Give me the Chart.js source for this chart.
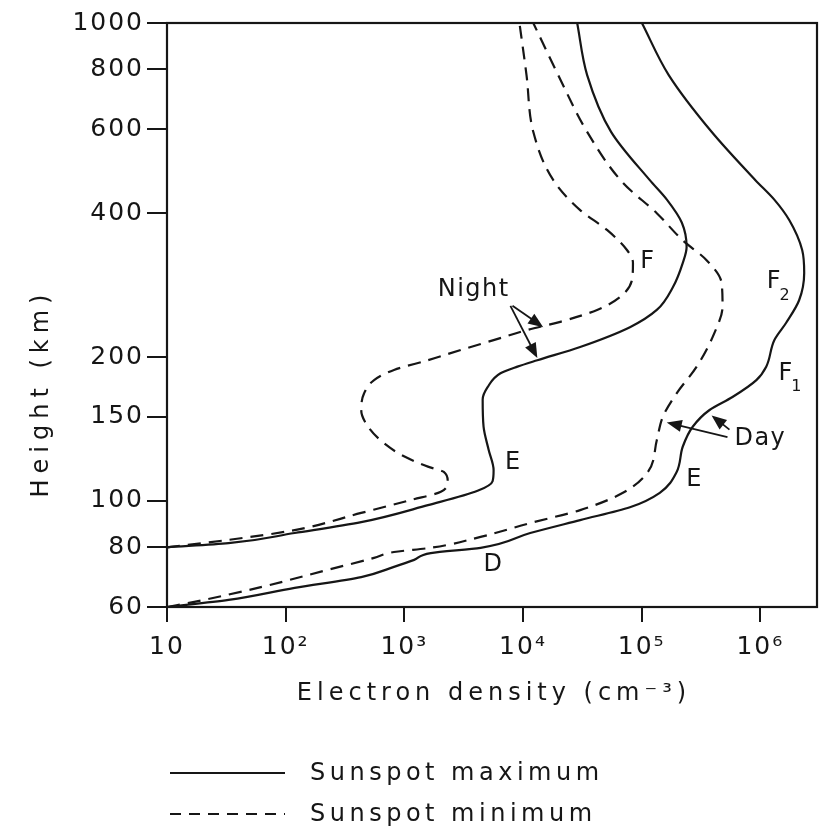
<!DOCTYPE html>
<html>
<head>
<meta charset="utf-8">
<script src="https://cdn.jsdelivr.net/npm/chart.js@4"></script>
<style>
  html, body { margin: 0; padding: 0; background: #fff; }
</style>
</head>
<body>
<canvas id="chartIonosphere" width="826" height="828"></canvas>
<script>
// ticks de los ejes
const xTicks = [10, 1e2, 1e3, 1e4, 1e5, 1e6];
const xTickLabels = ['10', '10²', '10³', '10⁴', '10⁵', '10⁶'];
const yTicks = [60, 80, 100, 150, 200, 400, 600, 800, 1000];

// Noche, máximo de manchas solares (línea continua)
const nightMaxDensity = [10, 33, 119, 433, 1580, 4140, 5540, 5650, 5130, 4650, 4570, 5030, 6460, 8970, 13200, 30300, 79600, 134000, 183000, 222000, 239000, 218000, 163000, 117000, 55200, 34700, 28600];
const nightMaxHeight = [80, 81.6, 85.7, 90.3, 98, 105, 110, 116, 128, 143, 163, 173, 185, 191, 197, 210, 231, 251, 280, 315, 340, 382, 427, 469, 592, 778, 1000];

// Noche, mínimo (discontinua)
const nightMinDensity = [10, 33, 119, 433, 1140, 2030, 2320, 2150, 1580, 993, 675, 495, 433, 458, 556, 818, 1580, 2990, 5650, 10900, 20600, 42100, 65600, 82800, 84400, 75100, 51000, 30300, 18000, 12200, 10700, 9330];
const nightMinHeight = [80, 82.9, 86.9, 94.4, 100.5, 104.5, 110, 115, 118, 124, 132, 143, 155, 168, 179, 188, 197, 207, 217, 228, 237, 251, 267, 290, 315, 335, 369, 406, 469, 592, 778, 1000];

// Día, máximo (continua)
const dayMaxDensity = [10, 33, 119, 433, 818, 1210, 1670, 4390, 11500, 30300, 79600, 142000, 197000, 222000, 269000, 373000, 582000, 925000, 1120000, 1310000, 1650000, 2120000, 2340000, 2250000, 1750000, 1310000, 908000, 388000, 169000, 100400];
const dayMaxHeight = [60, 62.1, 65.8, 69.3, 72.8, 75.3, 77.8, 79.8, 85.7, 91.2, 97, 104, 115, 130, 143, 155, 165, 179, 191, 217, 236, 263, 300, 335, 387, 427, 469, 592, 778, 1000];

// Día, mínimo (discontinua)
const dayMinDensity = [10, 17, 63, 228, 556, 818, 1670, 4390, 11500, 30300, 69500, 112700, 134000, 150700, 197000, 290600, 411000, 480000, 471000, 352000, 221600, 134000, 69500, 34700, 19800, 12200];
const dayMinHeight = [60, 61.5, 66.1, 71.8, 76, 78.2, 79.8, 84.1, 89.9, 95.7, 104, 115, 134, 150, 168, 191, 225, 255, 286, 319, 351, 400, 463, 592, 778, 1000];

// etiquetas dentro del gráfico
const labelText = ['Night', 'F', 'E', 'F', 'F', 'Day', 'E', 'D'];
const labelSub = ['', '', '', '2', '1', '', '', ''];
const labelDensity = [3840, 112700, 8300, 1310000, 1650000, 1000000, 279000, 5650];
const labelHeight = [276, 317, 120, 287, 185, 135, 111, 73.4];

// flechas (desde -> hasta)
const arrowFromDensity = [8150, 7830, 528000, 549000];
const arrowFromHeight = [256, 256, 136, 141];
const arrowToDensity = [14800, 13200, 162600, 388000];
const arrowToHeight = [231, 199, 146, 151];

const legendLabels = ['Sunspot maximum', 'Sunspot minimum'];

const ink = '#161616';
const fontFamily = '"DejaVu Sans", sans-serif';

function toPoints(xs, ys) {
  return xs.map((x, i) => ({ x: x, y: ys[i] }));
}

// las curvas son función de la altura, por eso el eje índice es "y"
function lineDataset(xs, ys, dashed) {
  return {
    data: toPoints(xs, ys),
    showLine: true,
    indexAxis: 'y',
    borderColor: ink,
    borderWidth: 2.2,
    borderDash: dashed ? [13, 8] : [],
    pointRadius: 0,
    cubicInterpolationMode: 'monotone',
    fill: false
  };
}

// marco, textos, flechas y leyenda
const decorPlugin = {
  id: 'decor',
  beforeDraw(chart) {
    chart.ctx.letterSpacing = '2px';
  },
  afterDatasetsDraw(chart) {
    const ctx = chart.ctx;
    const xs = chart.scales.x;
    const ys = chart.scales.y;
    const area = chart.chartArea;
    ctx.save();
    ctx.strokeStyle = ink;
    ctx.fillStyle = ink;
    ctx.lineWidth = 2.2;
    ctx.setLineDash([]);
    ctx.strokeRect(area.left, area.top, area.right - area.left, area.bottom - area.top);

    ctx.textAlign = 'center';
    ctx.textBaseline = 'middle';
    ctx.letterSpacing = '1.5px';
    labelText.forEach((t, i) => {
      const px = xs.getPixelForValue(labelDensity[i]);
      const py = ys.getPixelForValue(labelHeight[i]);
      ctx.font = '24px ' + fontFamily;
      ctx.fillText(t, px, py);
      if (labelSub[i]) {
        ctx.font = '16px ' + fontFamily;
        ctx.fillText(labelSub[i], px + 11, py + 14);
      }
    });

    ctx.lineWidth = 1.8;
    arrowFromDensity.forEach((d, i) => {
      const x1 = xs.getPixelForValue(d);
      const y1 = ys.getPixelForValue(arrowFromHeight[i]);
      const x2 = xs.getPixelForValue(arrowToDensity[i]);
      const y2 = ys.getPixelForValue(arrowToHeight[i]);
      const ang = Math.atan2(y2 - y1, x2 - x1);
      ctx.beginPath();
      ctx.moveTo(x1, y1);
      ctx.lineTo(x2 - 8 * Math.cos(ang), y2 - 8 * Math.sin(ang));
      ctx.stroke();
      ctx.beginPath();
      ctx.moveTo(x2, y2);
      ctx.lineTo(x2 - 15 * Math.cos(ang) + 6 * Math.sin(ang), y2 - 15 * Math.sin(ang) - 6 * Math.cos(ang));
      ctx.lineTo(x2 - 15 * Math.cos(ang) - 6 * Math.sin(ang), y2 - 15 * Math.sin(ang) + 6 * Math.cos(ang));
      ctx.closePath();
      ctx.fill();
    });

    // títulos de los ejes
    ctx.font = '24px ' + fontFamily;
    ctx.letterSpacing = '5px';
    ctx.fillText('Electron density (cm⁻³)', (area.left + area.right) / 2 + 2, 694);
    ctx.save();
    ctx.translate(42, 393);
    ctx.rotate(-Math.PI / 2);
    ctx.letterSpacing = '6px';
    ctx.fillText('Height (km)', 0, 0);
    ctx.restore();

    // leyenda
    ctx.lineWidth = 2.2;
    ctx.textAlign = 'left';
    ctx.letterSpacing = '4.5px';
    legendLabels.forEach((t, i) => {
      const ly = i === 0 ? 773 : 814;
      ctx.setLineDash(i === 0 ? [] : [11, 8]);
      ctx.beginPath();
      ctx.moveTo(170, ly);
      ctx.lineTo(285, ly);
      ctx.stroke();
      ctx.setLineDash([]);
      ctx.fillText(t, 310, ly + 1);
    });
    ctx.restore();
  }
};

function drawIonosphereChart() {
  const ctx = document.getElementById('chartIonosphere').getContext('2d');
  new Chart(ctx, {
    type: 'scatter',
    data: {
      datasets: [
        lineDataset(nightMaxDensity, nightMaxHeight, false),
        lineDataset(nightMinDensity, nightMinHeight, true),
        lineDataset(dayMaxDensity, dayMaxHeight, false),
        lineDataset(dayMinDensity, dayMinHeight, true)
      ]
    },
    options: {
      responsive: false,
      animation: false,
      devicePixelRatio: 1,
      layout: { padding: { top: 23, right: 9, bottom: 161, left: 0 } },
      plugins: { legend: { display: false }, tooltip: { enabled: false } },
      scales: {
        x: {
          type: 'logarithmic',
          min: 10,
          max: 3e6,
          afterBuildTicks: function(axis) {
            axis.ticks = xTicks.map(v => ({ value: v }));
          },
          afterFit: function(axis) { axis.height = 60; },
          ticks: {
            autoSkip: false,
            maxRotation: 0,
            padding: 10,
            color: ink,
            font: { family: fontFamily, size: 25 },
            callback: function(value) {
              const i = xTicks.indexOf(value);
              return i >= 0 ? xTickLabels[i] : '';
            }
          },
          grid: { drawOnChartArea: false, drawTicks: true, tickLength: 15, color: ink, lineWidth: 2 },
          border: { display: false }
        },
        y: {
          type: 'logarithmic',
          min: 60,
          max: 1000,
          afterBuildTicks: function(axis) {
            axis.ticks = yTicks.map(v => ({ value: v }));
          },
          afterFit: function(axis) { axis.width = 167; },
          ticks: {
            autoSkip: false,
            padding: 3,
            color: ink,
            font: { family: fontFamily, size: 25 },
            callback: function(value) { return String(value); }
          },
          grid: { drawOnChartArea: false, drawTicks: true, tickLength: 20, color: ink, lineWidth: 2 },
          border: { display: false }
        }
      }
    },
    plugins: [decorPlugin]
  });
}

document.addEventListener('DOMContentLoaded', function() {
  drawIonosphereChart();
});
</script>
</body>
</html>
